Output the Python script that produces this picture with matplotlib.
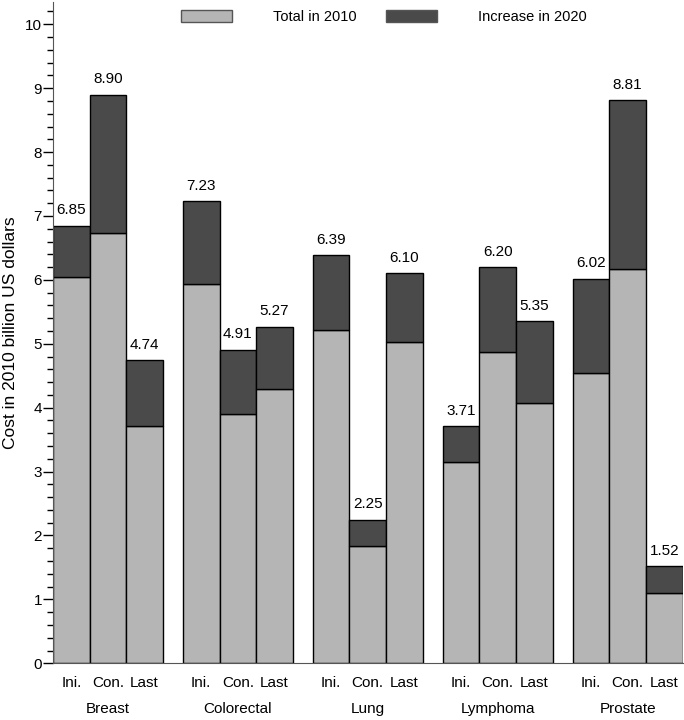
import matplotlib.pyplot as plt
from matplotlib.patches import Patch
from matplotlib.ticker import MultipleLocator

plt.rcParams['font.family'] = ['Liberation Sans', 'DejaVu Sans']

cancers = ['Breast', 'Colorectal', 'Lung', 'Lymphoma', 'Prostate']
phases = ['Ini.', 'Con.', 'Last']
# total cost in 2010 (light) and projected total in 2020 (bar top)
total_2010 = [[6.04, 6.74, 3.71],
              [5.93, 3.90, 4.30],
              [5.22, 1.84, 5.03],
              [3.15, 4.87, 4.08],
              [4.54, 6.17, 1.10]]
total_2020 = [[6.85, 8.90, 4.74],
              [7.23, 4.91, 5.27],
              [6.39, 2.25, 6.10],
              [3.71, 6.20, 5.35],
              [6.02, 8.81, 1.52]]

light = '#b5b5b5'
dark = '#4a4a4a'
gap = 0.556

fig = plt.figure(figsize=(6.84, 7.2), dpi=100)
ax = fig.add_axes([53/684, 56.7/720, (682.5-53)/684, 661.4/720])

xs, labels = [], []
for i, name in enumerate(cancers):
    start = i * (3 + gap)
    for j, ph in enumerate(phases):
        x = start + j + 0.5
        base = total_2010[i][j]
        top = total_2020[i][j]
        ax.bar(x, base, width=1, color=light, edgecolor='black', linewidth=1)
        ax.bar(x, top - base, bottom=base, width=1, color=dark, edgecolor='black', linewidth=1)
        ax.text(x, top + 0.13, f'{top:.2f}', ha='center', va='bottom', fontsize=11)
        xs.append(x)
        labels.append(ph)
    ax.annotate(name, xy=(start + 1.5, 0), xycoords=('data', 'axes fraction'),
                xytext=(0, -46), textcoords='offset pixels',
                ha='center', va='center', fontsize=11)

ax.set_xlim(0, 5 * 3 + 4 * gap)
ax.set_ylim(0, 10.35)
ax.set_xticks(xs)
ax.set_xticklabels(labels, fontsize=11)
ax.tick_params(axis='x', length=0, pad=9)
ax.yaxis.set_major_locator(MultipleLocator(1))
ax.yaxis.set_minor_locator(MultipleLocator(0.2))
ax.tick_params(axis='y', which='major', length=7, width=1, labelsize=11, pad=1)
ax.tick_params(axis='y', which='minor', length=4, width=1)
ax.spines['top'].set_visible(False)
ax.spines['right'].set_visible(False)
ax.spines['left'].set_color('#555555')
ax.spines['bottom'].set_color('#555555')
ax.set_ylabel('Cost in 2010 billion US dollars', fontsize=12.5, va='center')
ax.yaxis.set_label_coords(-0.068, 0.5)

handles = [Patch(facecolor=light, edgecolor='#555555'), Patch(facecolor=dark, edgecolor='#555555')]
fig.legend(handles, ['Total in 2010', 'Increase in 2020'], loc='center left', ncol=2,
           bbox_to_anchor=(168/684, 0.976), frameon=False, fontsize=10.5,
           handlelength=3.5, handleheight=0.9, handletextpad=2.8, columnspacing=2.0)

fig.savefig('out.png', dpi=100)
